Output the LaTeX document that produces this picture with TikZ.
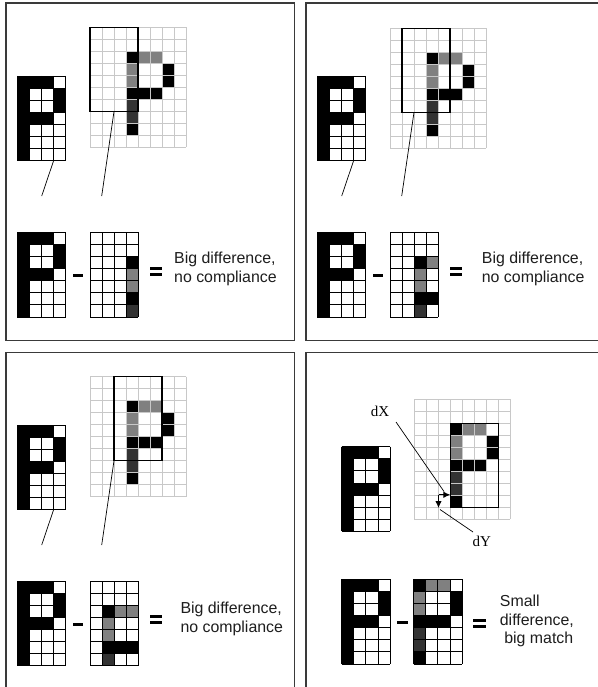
\documentclass[tikz,border=0pt]{standalone}
\usepackage{fontspec}
\setmainfont{Liberation Serif}
\newfontfamily\lblfont{Liberation Sans}
\usetikzlibrary{arrows.meta}
\definecolor{gm}{HTML}{808080}
\definecolor{gd}{HTML}{333333}
\definecolor{gline}{HTML}{C8C8C8}
\definecolor{frm}{HTML}{3A3A3A}
\definecolor{txt}{HTML}{1E1E1E}
\tikzset{
  tplgrid/.style={black,line width=0.9pt},
  biggrid/.style={gline,line width=0.9pt},
  win/.style={black,line width=1.1pt},
  lead/.style={black,line width=0.7pt},
  frame/.style={frm,line width=1.1pt},
  lbl/.style={text=txt,font=\lblfont\fontsize{15.9}{18.7}\selectfont,align=left,inner sep=0pt},
  serlbl/.style={text=black,font=\fontsize{15}{17}\selectfont,inner sep=0pt},
  offs/.style={black,line width=1pt,-{Latex[length=7pt,width=6.5pt]}}
}
\newcommand\cellmap[7]{%
  \edef\tmplist{#7}%
  \foreach \c/\r/\f in \tmplist {\fill[\f] ({#1+\c*#3},{#2+\r*#3}) rectangle ++(#3,#3);}
  \foreach \i in {0,...,#4} {\draw[#6] ({#1+\i*#3},#2) -- ++(0,{#5*#3});}
  \foreach \j in {0,...,#5} {\draw[#6] (#1,{#2+\j*#3}) -- ++({#4*#3},0);}
}
\def\Ptpl{0/0/black,1/0/black,2/0/black,0/1/black,3/1/black,0/2/black,3/2/black,0/3/black,1/3/black,2/3/black,0/4/black,0/5/black,0/6/black}
\def\Pbig{3/2/black,4/2/gm,5/2/gm,3/3/gm,6/3/black,3/4/gm,6/4/black,3/5/black,4/5/black,5/5/black,3/6/gd,3/7/gd,3/8/black}
\def\Wone{3/2/black,3/3/gm,3/4/gm,3/5/black,3/6/gd}
\def\Wtwo{2/2/black,3/2/gm,2/3/gm,2/4/gm,2/5/black,3/5/black,2/6/gd}
\def\Wthree{1/2/black,2/2/gm,3/2/gm,1/3/gm,1/4/gm,1/5/black,2/5/black,3/5/black,1/6/gd}
\def\Wfour{0/0/black,1/0/gm,2/0/gm,0/1/gm,3/1/black,0/2/gm,3/2/black,0/3/black,1/3/black,2/3/black,0/4/gd,0/5/gd,0/6/black}
\begin{document}
\begin{tikzpicture}[x=1pt,y=-1pt]
\useasboundingbox[fill=white] (0,0) rectangle (597,687);
% ---------- Panel 1 ----------
\draw[frame] (6,3) rectangle (294.5,340.5);
\cellmap{90}{27.5}{12}{8}{10}{biggrid}{\Pbig}
\cellmap{17.3}{76}{12.1}{4}{7}{tplgrid}{\Ptpl}
\draw[win] (90,27.5) rectangle (138,111.5);
\coordinate (a1) at (53.6,160.7); \coordinate (a2) at (41.7,196);
\coordinate (b1) at (114,111.5); \coordinate (b2) at (101.7,196);
\draw[lead] (a1) -- (a2);
\draw[lead] (b1) -- (b2);
\cellmap{17.3}{232.3}{12.1}{4}{7}{tplgrid}{\Ptpl}
\fill (72.7,274) rectangle (83.3,277);
\cellmap{90}{232.3}{12.1}{4}{7}{tplgrid}{\Wone}
\fill (150,266.5) rectangle (162.3,269.5);
\fill (150,272.5) rectangle (162.3,275.5);
\node[lbl,anchor=west] (t1) at (174,269) {Big difference,\\no compliance};
% ---------- Panel 2 ----------
\draw[frame] (600,3) -- (306,3) -- (306,340.5) -- (600,340.5);
\cellmap{390}{28.3}{12}{8}{10}{biggrid}{\Pbig}
\cellmap{317.3}{76}{12.1}{4}{7}{tplgrid}{\Ptpl}
\draw[win] (402,28.3) rectangle (450,112.3);
\coordinate (c1) at (353.6,160.7); \coordinate (c2) at (341.7,196);
\coordinate (d1) at (414,112.3); \coordinate (d2) at (401.7,196);
\draw[lead] (c1) -- (c2);
\draw[lead] (d1) -- (d2);
\cellmap{317.3}{232.3}{12.1}{4}{7}{tplgrid}{\Ptpl}
\fill (372.7,274) rectangle (383.3,277);
\cellmap{390}{232.3}{12.1}{4}{7}{tplgrid}{\Wtwo}
\fill (450,266.5) rectangle (462.3,269.5);
\fill (450,272.5) rectangle (462.3,275.5);
\node[lbl,anchor=west] (t2) at (481.7,269) {Big difference,\\no compliance};
% ---------- Panel 3 ----------
\draw[frame] (6,695) -- (6,352.3) -- (294.5,352.3) -- (294.5,695);
\cellmap{90}{376.7}{12}{8}{10}{biggrid}{\Pbig}
\cellmap{17.3}{425}{12.1}{4}{7}{tplgrid}{\Ptpl}
\draw[win] (114,376.7) rectangle (162,460.7);
\coordinate (e1) at (53.6,509.7); \coordinate (e2) at (41.7,545);
\coordinate (f1) at (114,460.7); \coordinate (f2) at (101.7,545);
\draw[lead] (e1) -- (e2);
\draw[lead] (f1) -- (f2);
\cellmap{17.3}{581}{12.1}{4}{7}{tplgrid}{\Ptpl}
\fill (72.7,622.5) rectangle (83.3,625.5);
\cellmap{90}{581}{12.1}{4}{7}{tplgrid}{\Wthree}
\fill (150,615.3) rectangle (162.3,618.3);
\fill (150,621.3) rectangle (162.3,624.3);
\node[lbl,anchor=west] (t3) at (180.3,619) {Big difference,\\no compliance};
% ---------- Panel 4 ----------
\draw[frame] (306,695) -- (306,352.3) -- (600,352.3);
\cellmap{414.3}{399.3}{12}{8}{10}{biggrid}{\Pbig}
\cellmap{341.7}{446.7}{12.1}{4}{7}{tplgrid}{\Ptpl}
\draw[win] (450.3,423.3) rectangle (498.3,507.3);
\node[serlbl] (dx) at (380,411.7) {dX};
\node[serlbl] (dy) at (481.7,541.7) {dY};
\coordinate (corner) at (438.5,494.8);
\coordinate (xtip) at (450.3,494.8);
\coordinate (ytip) at (438.5,508);
\draw[offs] (corner) -- (xtip);
\draw[offs] (corner) -- (ytip);
\coordinate (dxs) at (396,422); \coordinate (dxe) at (444,491.5);
\coordinate (dys) at (440,509.5); \coordinate (dye) at (473,532);
\draw[lead] (dxs) -- (dxe);
\draw[lead] (dys) -- (dye);
\cellmap{341.7}{579.3}{12.1}{4}{7}{tplgrid}{\Ptpl}
\fill (396.7,620.5) rectangle (408.3,623.5);
\cellmap{413.7}{579.3}{12.1}{4}{7}{tplgrid}{\Wfour}
\fill (473.3,619) rectangle (485.7,622);
\fill (473.3,625) rectangle (485.7,628);
\node[lbl,anchor=west] (t4) at (499.7,621) {Small\\difference,\\\ big match};
\end{tikzpicture}
\end{document}
